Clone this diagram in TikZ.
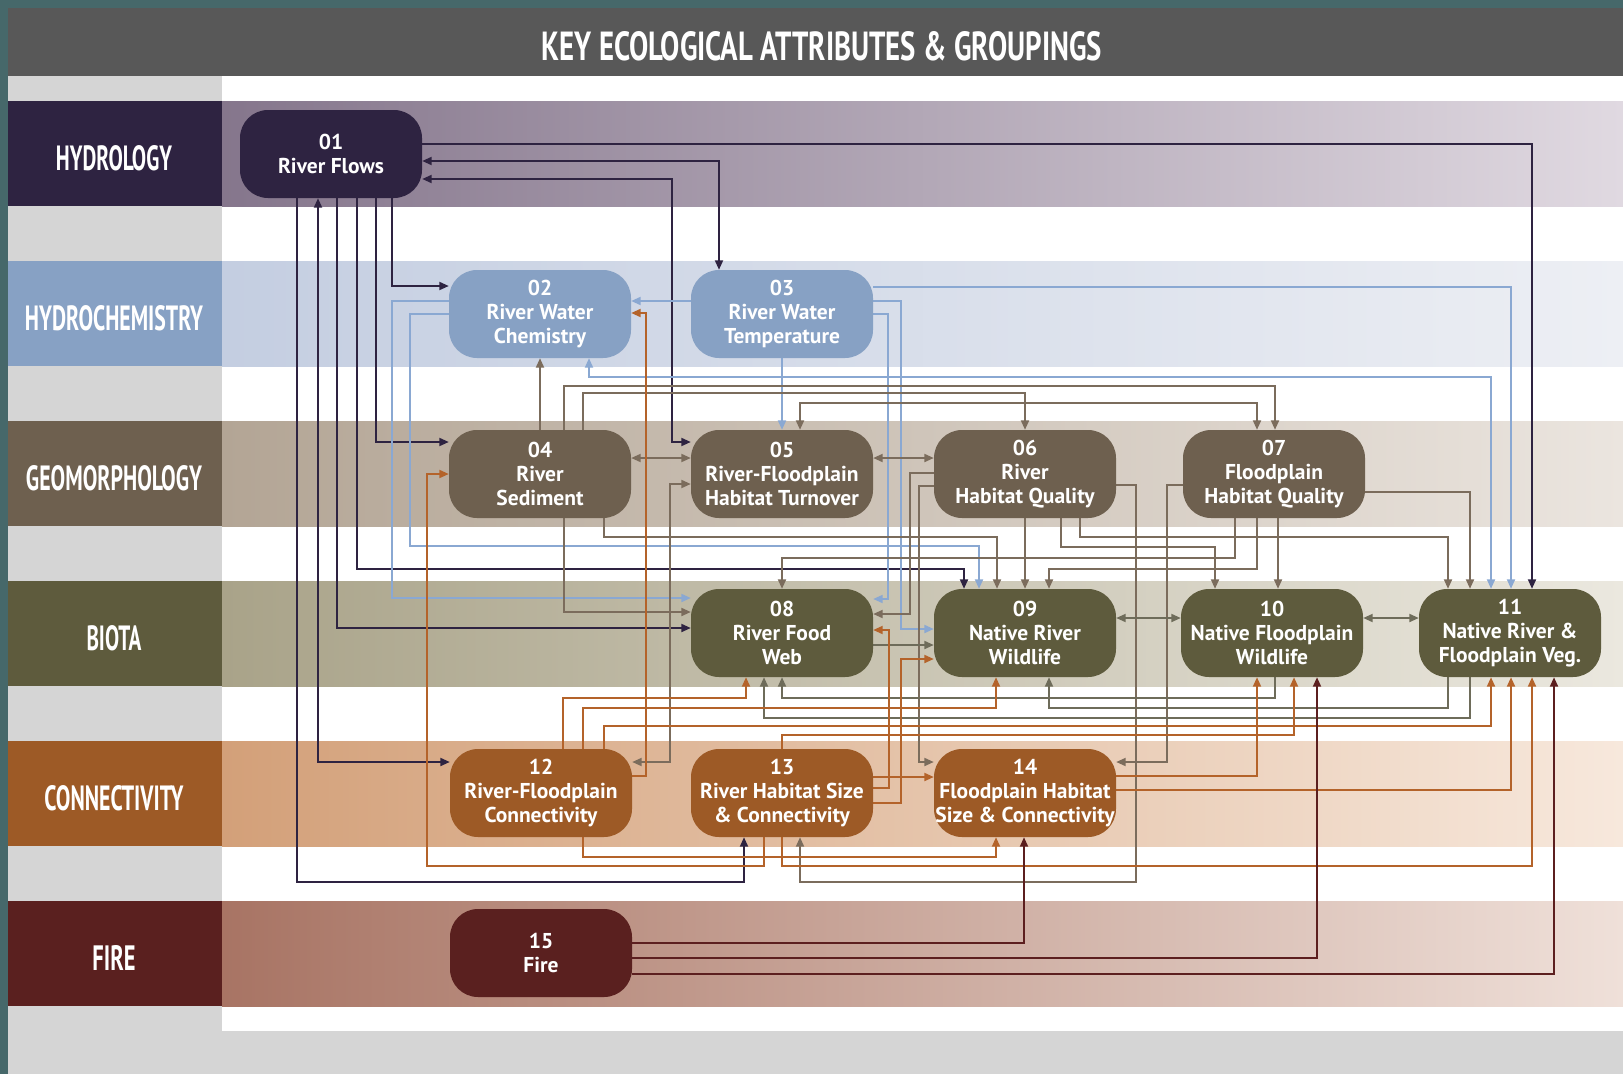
\documentclass[tikz,border=0pt]{standalone}
\usepackage{fontspec}
\setmainfont{PT Sans}
\usetikzlibrary{arrows.meta}
\pgfdeclarelayer{bands}
\pgfdeclarelayer{links}
\pgfsetlayers{bands,links,main}

% group colours
\definecolor{frameTeal}{HTML}{46686A}
\definecolor{titleGray}{HTML}{585858}
\definecolor{colGray}{HTML}{D5D5D5}
\definecolor{gHyd}{HTML}{2E2341}
\definecolor{gChem}{HTML}{87A1C4}
\definecolor{gGeo}{HTML}{6E604F}
\definecolor{gBio}{HTML}{5E5B3D}
\definecolor{gCon}{HTML}{9D5A26}
\definecolor{gFire}{HTML}{5A201F}
% band gradients
\definecolor{bHydL}{HTML}{85768C}\definecolor{bHydR}{HTML}{E0D9E1}
\definecolor{bChemL}{HTML}{C4CEE1}\definecolor{bChemR}{HTML}{EDEFF4}
\definecolor{bGeoL}{HTML}{B3A595}\definecolor{bGeoR}{HTML}{EBE5DF}
\definecolor{bBioL}{HTML}{A9A389}\definecolor{bBioR}{HTML}{EBE8DF}
\definecolor{bConL}{HTML}{D3A079}\definecolor{bConR}{HTML}{F7E8DC}
\definecolor{bFireL}{HTML}{A87464}\definecolor{bFireR}{HTML}{EFE0D9}
% connector colours
\definecolor{cDark}{HTML}{2E2341}
\definecolor{cBlue}{HTML}{8AA8D2}
\definecolor{cBrown}{HTML}{7B6C5C}
\definecolor{cOlive}{HTML}{6E6C5A}
\definecolor{cOrange}{HTML}{B4632A}
\definecolor{cFire}{HTML}{5C1F1F}

\begin{document}
\begin{tikzpicture}[x=1pt,y=-1pt,
  kea/.style={rectangle, rounded corners=28pt, minimum width=182pt,
    minimum height=88pt, inner sep=0pt, text=white, align=center,
    font=\fontsize{21.5}{24}\selectfont\bfseries},
  grouptext/.style={inner sep=0pt, text=white},
  link/.style={line width=1.9pt, -{Triangle[length=9.5pt,width=8pt]}},
  twoway/.style={line width=1.9pt,
    {Triangle[length=9.5pt,width=8pt]}-{Triangle[length=9.5pt,width=8pt]}}]

\useasboundingbox (0,0) rectangle (1623,1074);

% ---------- page, title bar and group bands ----------
\begin{pgfonlayer}{bands}
  \fill[frameTeal] (0,0) rectangle (1623,1074);
  \fill[titleGray] (8,8) rectangle (1623,76);
  \fill[colGray] (8,76) rectangle (222,1031);
  \fill[white] (222,76) rectangle (1623,1031);
  \fill[colGray] (8,1031) rectangle (1623,1074);
  \shade[left color=bHydL, right color=bHydR] (222,101) rectangle (1623,206);
  \shade[left color=bChemL, right color=bChemR] (222,261) rectangle (1623,366);
  \shade[left color=bGeoL, right color=bGeoR] (222,421) rectangle (1623,526);
  \shade[left color=bBioL, right color=bBioR] (222,581) rectangle (1623,686);
  \shade[left color=bConL, right color=bConR] (222,741) rectangle (1623,846);
  \shade[left color=bFireL, right color=bFireR] (222,901) rectangle (1623,1006);
  \fill[gHyd] (8,101) rectangle (222,206);
  \fill[gChem] (8,261) rectangle (222,366);
  \fill[gGeo] (8,421) rectangle (222,526);
  \fill[gBio] (8,581) rectangle (222,686);
  \fill[gCon] (8,741) rectangle (222,846);
  \fill[gFire] (8,901) rectangle (222,1006);
\end{pgfonlayer}

\node[grouptext] (title) at (822,46)
  {\resizebox{560pt}{29pt}{\bfseries KEY ECOLOGICAL ATTRIBUTES \& GROUPINGS}};

\node[grouptext] (lhyd)  at (114,158) {\resizebox{116pt}{25pt}{\bfseries HYDROLOGY}};
\node[grouptext] (lchem) at (114,318) {\resizebox{178pt}{25pt}{\bfseries HYDROCHEMISTRY}};
\node[grouptext] (lgeo)  at (114,478) {\resizebox{176pt}{25pt}{\bfseries GEOMORPHOLOGY}};
\node[grouptext] (lbio)  at (114,638) {\resizebox{55pt}{25pt}{\bfseries BIOTA}};
\node[grouptext] (lcon)  at (114,798) {\resizebox{139pt}{25pt}{\bfseries CONNECTIVITY}};
\node[grouptext] (lfire) at (114,958) {\resizebox{43pt}{25pt}{\bfseries FIRE}};

% ---------- key ecological attributes ----------
\node[kea, fill=gHyd]  (n01) at (331,154) {01\\River Flows};
\node[kea, fill=gChem] (n02) at (540,314) {02\\River Water\\Chemistry};
\node[kea, fill=gChem] (n03) at (782,314) {03\\River Water\\Temperature};
\node[kea, fill=gGeo]  (n04) at (540,474) {04\\River\\Sediment};
\node[kea, fill=gGeo]  (n05) at (782,474) {05\\River-Floodplain\\Habitat Turnover};
\node[kea, fill=gGeo]  (n06) at (1025,474) {06\\River\\Habitat Quality};
\node[kea, fill=gGeo]  (n07) at (1274,474) {07\\Floodplain\\Habitat Quality};
\node[kea, fill=gBio]  (n08) at (782,633) {08\\River Food\\Web};
\node[kea, fill=gBio]  (n09) at (1025,633) {09\\Native River\\Wildlife};
\node[kea, fill=gBio]  (n10) at (1272,633) {10\\Native Floodplain\\Wildlife};
\node[kea, fill=gBio]  (n11) at (1510,633) {11\\Native River \&\\Floodplain Veg.};
\node[kea, fill=gCon]  (n12) at (541,793) {12\\River-Floodplain\\Connectivity};
\node[kea, fill=gCon]  (n13) at (782,793) {13\\River Habitat Size\\\& Connectivity};
\node[kea, fill=gCon]  (n14) at (1025,793) {14\\Floodplain Habitat\\Size \& Connectivity};
\node[kea, fill=gFire] (n15) at (541,953) {15\\Fire};

% ---------- connectors ----------
\begin{pgfonlayer}{links}
% from River Flows
\draw[link,cDark] (n01.east |- 0,144) -| (n11.north -| 1532,0);
\draw[twoway,cDark] (n01.east |- 0,161) -| (n03.north -| 719,0);
\draw[twoway,cDark] (n01.east |- 0,179) -| (672,442) -- (n05.west |- 0,442);
\draw[link,cDark] (n01.south -| 297,0) |- (744,882) -- (n13.south -| 744,0);
\draw[twoway,cDark] (n01.south -| 318,0) |- (n12.west |- 0,762);
\draw[link,cDark] (n01.south -| 337,0) |- (n08.west |- 0,628);
\draw[link,cDark] (n01.south -| 357,0) |- (964,569) -- (n09.north -| 964,0);
\draw[link,cDark] (n01.south -| 376,0) |- (n04.west |- 0,442);
\draw[link,cDark] (n01.south -| 392,0) |- (n02.west |- 0,286);

% from hydrochemistry
\draw[link,cBlue] (n02.west |- 0,301) -| (392,598) -- (n08.west |- 0,598);
\draw[link,cBlue] (n02.west |- 0,314) -| (410,546) -| (n09.north -| 979,0);
\draw[link,cBlue] (n03.west |- 0,301) -- (n02.east |- 0,301);
\draw[link,cBlue] (n03.east |- 0,287) -| (n11.north -| 1511,0);
\draw[link,cBlue] (n03.east |- 0,301) -| (901,629) -- (n09.west |- 0,629);
\draw[link,cBlue] (n03.east |- 0,314) -| (888,599) -- (n08.east |- 0,599);
\draw[link,cBlue] (n03.south) -- (n05.north);
\draw[twoway,cBlue] (n02.south -| 589,0) |- (1491,377) -- (n11.north -| 1491,0);

% from geomorphology
\draw[link,cBrown] (n04.north) -- (n02.south);
\draw[twoway,cBrown] (n04.east |- 0,458) -- (n05.west |- 0,458);
\draw[link,cBrown] (n04.north -| 564,0) |- (1275,386) -- (n07.north -| 1275,0);
\draw[link,cBrown] (n04.north -| 583,0) |- (1025,393) -- (n06.north);
\draw[twoway,cBrown] (n05.north -| 800,0) |- (1257,403) -- (n07.north -| 1257,0);
\draw[link,cBrown] (n04.south -| 564,0) |- (n08.west |- 0,612);
\draw[link,cBrown] (n04.south -| 604,0) |- (997,537) -- (n09.north -| 997,0);
\draw[twoway,cBrown] (n05.east |- 0,458) -- (n06.west |- 0,458);
\draw[twoway,cBrown] (n05.west |- 0,484) -| (670,762) -- (n12.east |- 0,762);
\draw[link,cBrown] (n06.west |- 0,473) -| (910,614) -- (n08.east |- 0,614);
\draw[link,cBrown] (n06.west |- 0,486) -| (919,762) -- (n14.west |- 0,762);
\draw[link,cBrown] (n06.south) -- (n09.north);
\draw[link,cBrown] (n06.south -| 1061,0) |- (1215,547) -- (n10.north -| 1215,0);
\draw[link,cBrown] (n06.south -| 1080,0) |- (1448,537) -- (n11.north -| 1448,0);
\draw[link,cBrown] (n06.east |- 0,485) -| (1136,882) -| (n13.south -| 800,0);
\draw[link,cBrown] (n07.west |- 0,485) -| (1167,762) -- (n14.east |- 0,762);
\draw[link,cBrown] (n07.east |- 0,492) -| (n11.north -| 1470,0);
\draw[link,cBrown] (n07.south -| 1235,0) |- (782,558) -- (n08.north);
\draw[link,cBrown] (n07.south -| 1257,0) |- (1049,569) -- (n09.north -| 1049,0);
\draw[link,cBrown] (n07.south -| 1278,0) -- (n10.north -| 1278,0);

% from biota
\draw[link,cOlive] (n08.east |- 0,645) -- (n09.west |- 0,645);
\draw[twoway,cOlive] (n09.east |- 0,618) -- (n10.west |- 0,618);
\draw[twoway,cOlive] (n10.east |- 0,618) -- (n11.west |- 0,618);
\draw[link,cOlive] (n10.south -| 1275,0) |- (782,698) -- (n08.south);
\draw[link,cOlive] (n11.south -| 1448,0) |- (1049,708) -- (n09.south -| 1049,0);
\draw[link,cOlive] (n11.south -| 1470,0) |- (764,718) -- (n08.south -| 764,0);

% from connectivity
\draw[link,cOrange] (n12.east |- 0,776) -| (646,313) -- (n02.east |- 0,313);
\draw[link,cOrange] (n12.north -| 563,0) |- (746,698) -- (n08.south -| 746,0);
\draw[link,cOrange] (n12.north -| 583,0) |- (996,708) -- (n09.south -| 996,0);
\draw[link,cOrange] (n12.north -| 604,0) |- (1491,726) -- (n11.south -| 1491,0);
\draw[link,cOrange] (n12.south -| 583,0) |- (996,857) -- (n14.south -| 996,0);
\draw[link,cOrange] (n13.north) |- (1294,735) -- (n10.south -| 1294,0);
\draw[link,cOrange] (n13.east |- 0,777) -- (n14.west |- 0,777);
\draw[link,cOrange] (n13.east |- 0,788) -| (889,630) -- (n08.east |- 0,630);
\draw[link,cOrange] (n13.east |- 0,803) -| (901,659) -- (n09.west |- 0,659);
\draw[link,cOrange] (n13.south -| 764,0) |- (427,866) |- (n04.west |- 0,474);
\draw[link,cOrange] (n13.south -| 782,0) |- (1532,866) -- (n11.south -| 1532,0);
\draw[link,cOrange] (n14.east |- 0,776) -| (n10.south -| 1257,0);
\draw[link,cOrange] (n14.east |- 0,790) -| (n11.south -| 1511,0);

% from fire
\draw[link,cFire] (n15.east |- 0,943) -| (n14.south -| 1024,0);
\draw[link,cFire] (n15.east |- 0,958) -| (n10.south -| 1317,0);
\draw[link,cFire] (n15.east |- 0,974) -| (n11.south -| 1554,0);
\end{pgfonlayer}
\end{tikzpicture}
\end{document}
